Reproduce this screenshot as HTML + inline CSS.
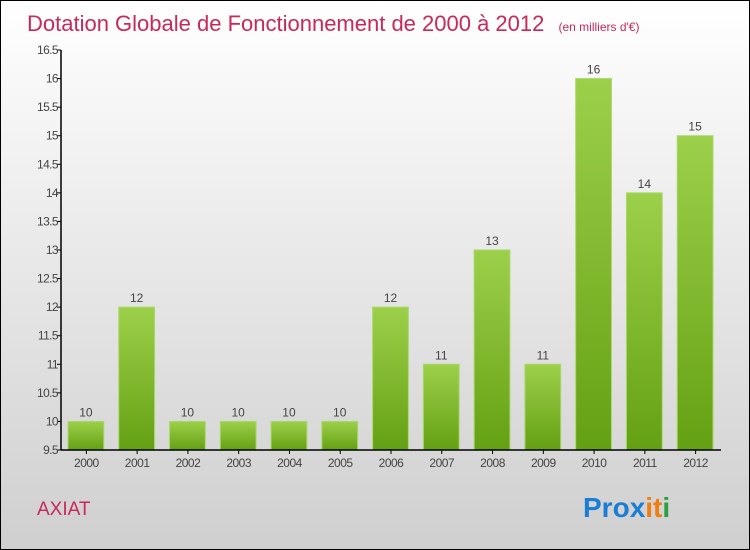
<!DOCTYPE html>
<html><head><meta charset="utf-8"><style>
body{margin:0}
#c{width:748px;height:548px;border:1px solid #000;position:relative;background:linear-gradient(#ffffff,#cfcfcf);font-family:"Liberation Sans",sans-serif;overflow:hidden}
</style></head><body>
<div id="c">
<svg width="748" height="548" xmlns="http://www.w3.org/2000/svg" id="svg">
<defs><linearGradient id="g" x1="0" y1="0" x2="0" y2="1"><stop offset="0" stop-color="#9dd04a"/><stop offset="1" stop-color="#64a013"/></linearGradient></defs>
<text x="26" y="30" font-size="22" fill="#c8285a">Dotation Globale de Fonctionnement de 2000 à 2012 <tspan font-size="12" dx="8">(en milliers d'€)</tspan></text>
<text x="36" y="514" font-size="19" fill="#c8285a">AXIAT</text>
<g font-size="28" font-weight="bold" font-family="'Liberation Sans',sans-serif">
<text x="582" y="516"><tspan fill="#1a7fd4">Pro</tspan><tspan fill="#1a7fd4">x</tspan><tspan fill="#f07d10">i</tspan><tspan fill="#f07d10">t</tspan><tspan fill="#2aa040">i</tspan></text></g>
<g id="plot"></g>
</svg>
</div>
<script>
const categories=["2000","2001","2002","2003","2004","2005","2006","2007","2008","2009","2010","2011","2012"];
const values=[10,12,10,10,10,10,12,11,13,11,16,14,15];
const tickLabels=["9.5","10","10.5","11","11.5","12","12.5","13","13.5","14","14.5","15","15.5","16","16.5"];
const x0=60,x1=720,yTop=49,yBot=449,vMin=9.5,vMax=16.5;
const y=v=>yBot-(v-vMin)/(vMax-vMin)*(yBot-yTop);
const band=(x1-x0)/categories.length;
const ns="http://www.w3.org/2000/svg";
const g=document.getElementById('plot');
function mk(t,a){const e=document.createElementNS(ns,t);for(const k in a)e.setAttribute(k,a[k]);g.appendChild(e);return e;}
tickLabels.forEach(t=>{const v=parseFloat(t),yy=y(v);
const l=mk('line',{x1:x0-4,x2:x0,y1:yy,y2:yy,stroke:'#000'});


const tx=mk('text',{x:x0-3,y:yy+4,'text-anchor':'end','font-size':12,fill:'#444','letter-spacing':'-0.6'});tx.textContent=t;

});
categories.forEach((c,i)=>{const bx=x0+i*band+7,bw=band-15,top=y(values[i]);
const r=mk('rect',{x:bx,y:top,width:bw,height:yBot-top,fill:'url(#g)',stroke:'#a8d868','stroke-width':1});


const vl=mk('text',{x:bx+bw/2,y:top-5,'text-anchor':'middle','font-size':12,fill:'#444'});vl.textContent=String(values[i]);


const cx=x0+(i+0.5)*band;
const tk=mk('line',{x1:cx,x2:cx,y1:yBot,y2:yBot+4,stroke:'#000'});


const xl=mk('text',{x:cx,y:yBot+17,'text-anchor':'middle','font-size':12,fill:'#444','letter-spacing':'-0.5'});xl.textContent=c;

});
const ya=mk('line',{x1:x0,x2:x0,y1:yTop,y2:yBot,stroke:'#000','stroke-width':1.5});


const xa=mk('line',{x1:x0,x2:x1,y1:yBot,y2:yBot,stroke:'#000','stroke-width':1.5});


</script>
</body></html>
